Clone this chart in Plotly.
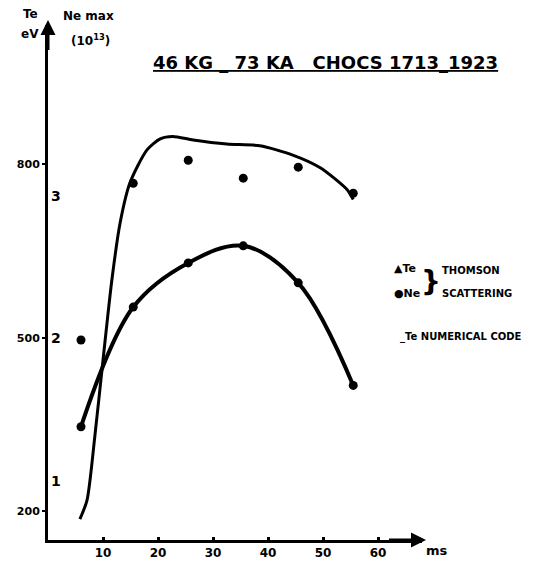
import plotly.graph_objects as go

# ---- data ----
shot_time = [6, 15.5, 25.5, 35.5, 45.5, 55.5]          # ms
te_thomson = [496, 767, 807, 776, 795, 750]            # eV
ne_thomson = [1.38, 2.22, 2.53, 2.65, 2.39, 1.67]      # 10^13

code_time = [5.8, 7.1, 8.5, 10.0, 11.6, 13.1, 14.9, 18.0, 20.4, 22.7, 26.4, 32.5, 38.5, 44.5, 49.5, 54.4, 55.5]
te_code = [186, 219, 328, 461, 599, 698, 768, 825, 844, 848, 842, 835, 832, 816, 794, 756, 739]

x_ticks = [10, 20, 30, 40, 50, 60]
te_ticks = [200, 500, 800]
te_tick_text = ["200", "500", "800"]
ne_ticks = [1, 2, 3]

title_text = "<u>46 KG _ 73 KA   CHOCS 1713_1923</u>"

FONT = "DejaVu Sans"
W, H = 553, 561
ML, MR, MT, MB = 48, 131, 25, 21
PW, PH = W - ML - MR, H - MT - MB


def px(xp):
    return (xp - ML) / PW


def py(yp):
    return (H - MB - yp) / PH


fig = go.Figure()

fig.add_trace(go.Scatter(
    x=code_time, y=te_code, mode="lines",
    line=dict(color="black", width=3, shape="spline", smoothing=0.7),
    name="Te numerical code", yaxis="y"))

fig.add_trace(go.Scatter(
    x=shot_time, y=ne_thomson, mode="lines+markers",
    line=dict(color="black", width=4, shape="spline", smoothing=1.0),
    marker=dict(color="black", size=9, symbol="circle"),
    name="Ne", yaxis="y2"))

fig.add_trace(go.Scatter(
    x=shot_time, y=te_thomson, mode="markers",
    marker=dict(color="black", size=9, symbol="circle"),
    name="Te", yaxis="y"))

axis_font = dict(family=FONT, size=11, color="black", weight="bold")

fig.update_layout(
    width=W, height=H,
    margin=dict(l=ML, r=MR, t=MT, b=MB, autoexpand=False),
    paper_bgcolor="white", plot_bgcolor="white",
    showlegend=False,
    xaxis=dict(range=[0, PW / 5.5], tickvals=x_ticks, showgrid=False, zeroline=False,
               automargin=False,
               showline=True, linecolor="black", linewidth=3,
               ticks="inside", ticklen=3, tickwidth=3, tickcolor="black",
               ticklabelstandoff=0,
               tickfont=dict(family=FONT, size=12, color="black", weight="bold")),
    yaxis=dict(range=[150, 1041], tickvals=te_ticks, ticktext=te_tick_text,
               showgrid=False, zeroline=False, automargin=False,
               showline=True, linecolor="black", linewidth=3,
               ticks="outside", ticklen=3, tickwidth=2, tickcolor="black",
               tickfont=axis_font),
    yaxis2=dict(range=[0.585, 4.2], tickvals=ne_ticks, overlaying="y", side="left",
                anchor="x", showgrid=False, zeroline=False, showline=False,
                automargin=False,
                ticklabelposition="inside", ticks="",
                tickfont=dict(family=FONT, size=14, color="black", weight="bold")),
)

ann = []


def text(xp, yp, s, size=11, xanchor="center", yanchor="middle"):
    ann.append(dict(x=px(xp), y=py(yp), xref="paper", yref="paper", text=s,
                    showarrow=False, xanchor=xanchor, yanchor=yanchor,
                    font=dict(family=FONT, size=size, color="black", weight="bold")))


text(325, 62, title_text, size=18)
text(30, 14, "Te", size=12)
text(30, 34, "eV", size=12)
text(88, 16, "Ne max", size=12)
text(90, 40, "(10<sup>13</sup>)", size=12)
text(437, 550, "ms", size=13)
# legend
text(392, 268, "▲Te", size=11, xanchor="left")
text(392, 293, "●Ne", size=11, xanchor="left")
text(431, 281, "}", size=28)
text(440, 270, "THOMSON", size=10, xanchor="left")
text(440, 293, "SCATTERING", size=10, xanchor="left")
text(398, 337, "_Te NUMERICAL CODE", size=10, xanchor="left")

# axis arrows
ann.append(dict(x=px(48), y=py(20), xref="paper", yref="paper",
                ax=0, ay=40, showarrow=True, arrowhead=2,
                arrowsize=1, arrowwidth=3, arrowcolor="black", text=" "))
ann.append(dict(x=px(426), y=py(540), xref="paper", yref="paper",
                ax=-40, ay=0, showarrow=True, arrowhead=2,
                arrowsize=1, arrowwidth=3, arrowcolor="black", text=" "))

fig.update_layout(annotations=ann)

fig.write_html("out.html")
